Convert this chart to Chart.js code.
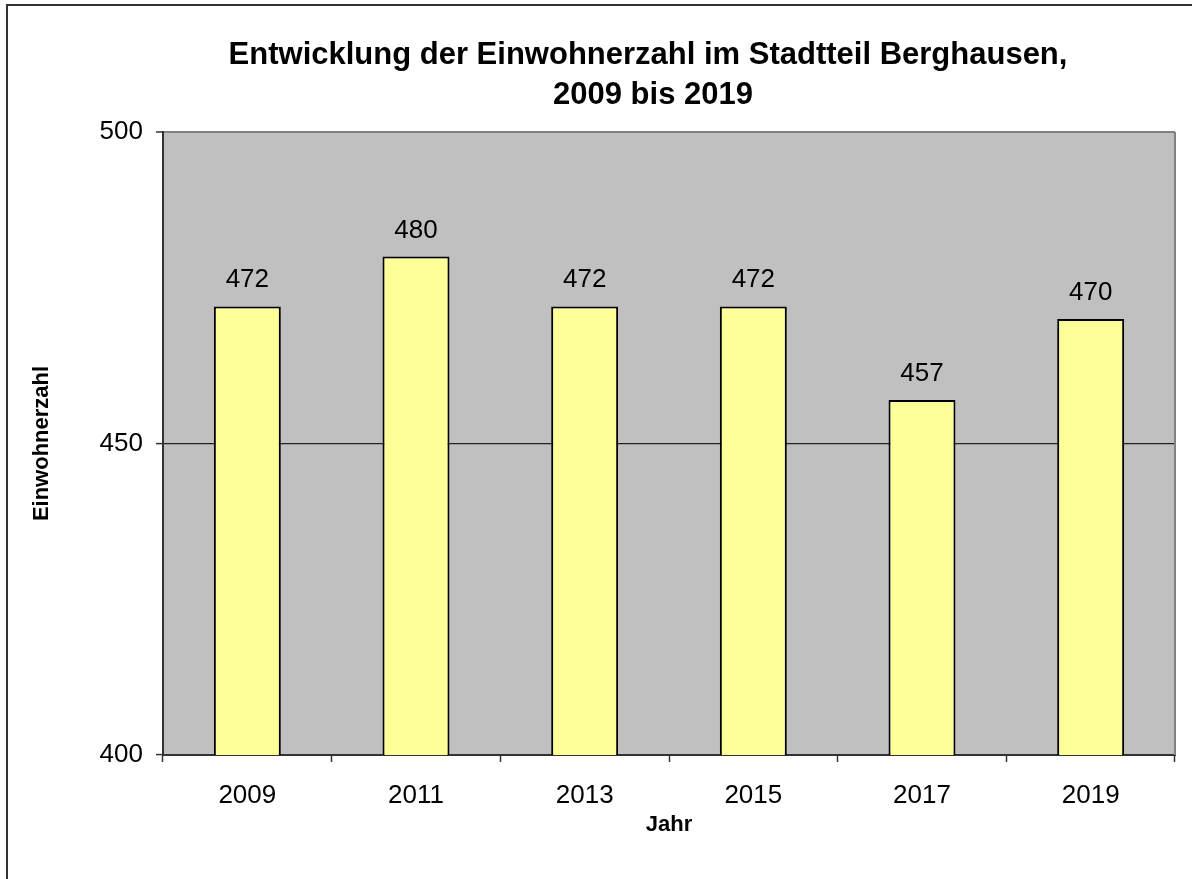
<!DOCTYPE html>
<html>
<head>
<meta charset="utf-8">
<script src="https://cdn.jsdelivr.net/npm/chart.js@4.4.1/dist/chart.umd.min.js"></script>
<style>
  html, body { margin: 0; padding: 0; background: #ffffff; }
  #wrap { width: 1192px; height: 879px; position: relative; }
</style>
</head>
<body>
<div id="wrap"><canvas id="c" width="1192" height="879"></canvas></div>
<script>
const categories = ['2009', '2011', '2013', '2015', '2017', '2019'];
const values = [472, 480, 472, 472, 457, 470];
const yTicks = [400, 450, 500];
const titleLines = ['Entwicklung der Einwohnerzahl im Stadtteil Berghausen,', '2009 bis 2019'];
const yTitle = 'Einwohnerzahl';
const xTitle = 'Jahr';

const FONT = '"Liberation Sans", Arial, Helvetica, sans-serif';

const decor = {
  id: 'decor',
  beforeDraw(chart) {
    const { ctx, chartArea: a } = chart;
    ctx.save();
    ctx.fillStyle = '#C0C0C0';
    ctx.fillRect(a.left, a.top, a.right - a.left, a.bottom - a.top);
    // outer chart border (left and top visible)
    ctx.strokeStyle = '#333333';
    ctx.lineWidth = 2;
    ctx.beginPath();
    ctx.moveTo(7, chart.height + 2);
    ctx.lineTo(7, 5);
    ctx.lineTo(chart.width + 2, 5);
    ctx.stroke();
    // title
    ctx.fillStyle = '#000';
    ctx.font = 'bold 31px ' + FONT;
    ctx.textAlign = 'center';
    ctx.textBaseline = 'alphabetic';
    ctx.fillText(titleLines[0], 648, 64);
    ctx.fillText(titleLines[1], 653, 104);
    ctx.restore();
  },
  afterDatasetsDraw(chart) {
    const { ctx, chartArea: a } = chart;
    ctx.save();
    ctx.strokeStyle = '#808080';
    ctx.lineWidth = 2;
    ctx.beginPath();
    ctx.moveTo(a.right, a.top);
    ctx.lineTo(a.right, a.bottom);
    ctx.stroke();
    // data labels
    const meta = chart.getDatasetMeta(0);
    ctx.fillStyle = '#000';
    ctx.font = '26px ' + FONT;
    ctx.textAlign = 'center';
    ctx.textBaseline = 'alphabetic';
    meta.data.forEach((bar, i) => {
      ctx.fillText(String(chart.data.datasets[0].data[i]), bar.x, bar.y - 19);
    });
    ctx.restore();
  }
};

new Chart(document.getElementById('c'), {
  type: 'bar',
  data: {
    labels: categories,
    datasets: [{
      data: values,
      backgroundColor: '#FFFF99',
      borderColor: '#000000',
      borderWidth: 2,
      borderSkipped: 'bottom',
      barPercentage: 0.397,
      categoryPercentage: 1.0
    }]
  },
  options: {
    responsive: false,
    animation: false,
    devicePixelRatio: 1,
    layout: { padding: { left: 7, right: 17, top: 132, bottom: 0 } },
    plugins: {
      legend: { display: false },
      title: { display: false },
      tooltip: { enabled: false }
    },
    scales: {
      x: {
        afterFit(s) { s.height = 124; },
        grid: {
          offset: true,
          drawOnChartArea: false,
          drawTicks: true,
          tickLength: 7,
          tickColor: '#333333',
          tickWidth: 1.5
        },
        border: { display: true, color: '#333333', width: 2 },
        ticks: {
          color: '#000',
          font: { family: FONT, size: 26 },
          padding: 18
        },
        title: {
          display: true,
          text: xTitle,
          color: '#000',
          font: { family: FONT, size: 22, weight: 'bold' },
          padding: { top: 0, bottom: 41 }
        }
      },
      y: {
        min: 400,
        max: 500,
        afterFit(s) { s.width = 156; },
        afterBuildTicks(s) { s.ticks = yTicks.map(v => ({ value: v })); },
        grid: {
          drawOnChartArea: true,
          drawTicks: true,
          tickLength: 7,
          color: (c) => c.tick && c.tick.value === 500 ? '#808080' : (c.tick && c.tick.value === 400 ? 'rgba(0,0,0,0)' : '#222222'),
          lineWidth: (c) => c.tick && c.tick.value === 500 ? 2 : 1.2,
          tickColor: '#333333',
          tickWidth: 1.5
        },
        border: { display: true, color: '#333333', width: 2 },
        ticks: {
          color: '#000',
          font: { family: FONT, size: 26 },
          padding: 13,
          callback: (v) => String(v)
        },
        title: {
          display: true,
          text: yTitle,
          color: '#000',
          font: { family: FONT, size: 22, weight: 'bold' },
          padding: { top: 22, bottom: 0 }
        }
      }
    }
  },
  plugins: [decor]
});
</script>
</body>
</html>
